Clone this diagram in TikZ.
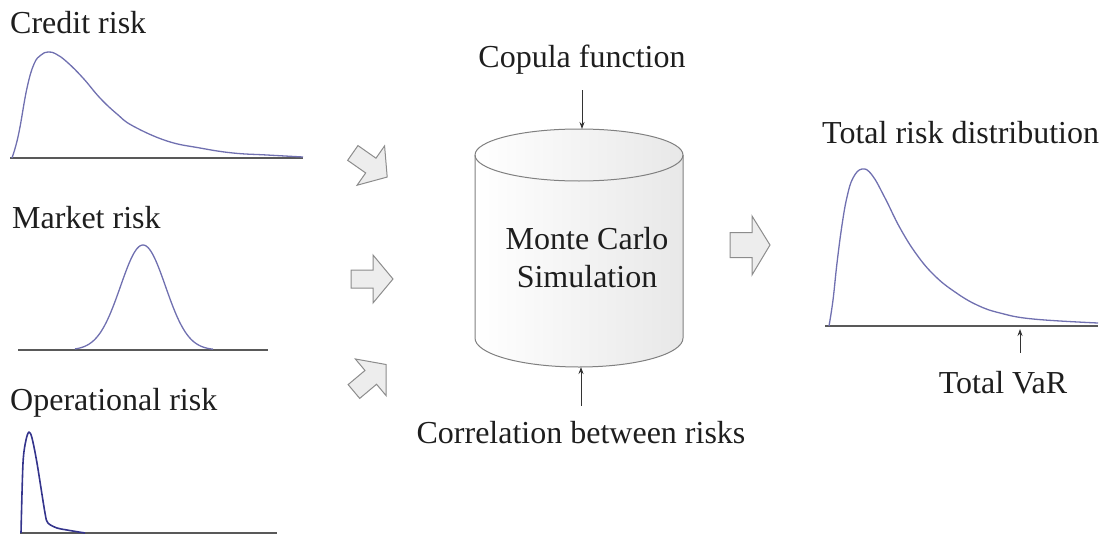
\documentclass[tikz,border=0pt]{standalone}
\usepackage{fontspec}
\setmainfont{Liberation Serif}
\usetikzlibrary{arrows.meta}
\definecolor{curvecol}{RGB}{112,112,176}
\definecolor{opcol}{RGB}{52,52,140}
\definecolor{txtcol}{RGB}{30,30,30}
\begin{document}
\begin{tikzpicture}[x=1pt,y=-1pt,
  lbl/.style={inner sep=0pt, font=\rmfamily\fontsize{32}{38}\selectfont, text=txtcol},
  axis/.style={line width=1.4pt, draw=black!65},
  curve/.style={line width=1.3pt, draw=curvecol, line join=round},
  conn/.style={-{Stealth[length=7pt,width=5pt]}, line width=0.9pt, draw=black!80},
  barrow/.style={fill=black!7, draw=black!45, line width=1pt, line join=miter},
  cyl/.style={draw=black!50, line width=1pt},
  blockarrow/.pic={\path[barrow] (-21,-9)--(1,-9)--(1,-24)--(21,0)--(1,24)--(1,9)--(-21,9)--cycle;}]
\useasboundingbox (0,0) rectangle (1110,538);

% ---------- labels ----------
\node[lbl, anchor=base west] (credit) at (10,33) {Credit risk};
\node[lbl, anchor=base west] (market) at (12,228) {Market risk};
\node[lbl, anchor=base west] (oper) at (10,410) {Operational risk};
\node[lbl, anchor=base] (copula) at (582,67) {Copula function};
\node[lbl, anchor=base] (corr) at (581,443) {Correlation between risks};
\node[lbl, anchor=base west] (total) at (822,143) {Total risk distribution};
\node[lbl, anchor=base] (var) at (1003,393) {Total VaR};

% ---------- credit risk ----------
\draw[axis] (10,158) -- (303,158);
\draw[curve] plot[smooth, tension=0.7] coordinates {(12,158) (16,145) (20,127) (27,88) (34,64) (41,55) (48,52) (56,54) (67,62) (83,78) (100,98) (117,114) (133,126) (167,141) (200,148) (233,153) (267,155) (303,157)};

% ---------- market risk ----------
\draw[axis] (18,350) -- (268,350);
\draw[curve] plot[domain=75:213, samples=90, smooth] (\x, {350-105*exp(-((\x-143)/22.5)^2/2)});

% ---------- operational risk ----------
\draw[axis] (20,533) -- (277,533);
\draw[curve, draw=opcol, line width=1.6pt] plot[smooth, tension=0.5] coordinates {(21,533) (23,463) (26,440) (29,432) (32,438) (37,463) (45,513) (48,523) (57,528) (67,530) (85,533)};

% ---------- block arrows ----------
\pic[rotate=-35] at (370,165) {blockarrow};
\pic at (372,279) {blockarrow};
\pic[rotate=40] at (370,378) {blockarrow};
\path[barrow] (730,232.5)--(752,232.5)--(752,216)--(770,245)--(752,275)--(752,257.5)--(730,257.5)--cycle;

% ---------- cylinder ----------
\shade[left color=white, right color=black!9] (475,155) -- (475,338)
  arc[start angle=180, end angle=360, x radius=104pt, y radius=29pt]
  -- (683,155)
  arc[start angle=0, end angle=180, x radius=104pt, y radius=26pt] -- cycle;
\draw[cyl] (475,155) -- (475,338)
  arc[start angle=180, end angle=360, x radius=104pt, y radius=29pt]
  -- (683,155)
  arc[start angle=0, end angle=180, x radius=104pt, y radius=26pt] -- cycle;
\draw[cyl] (475,155) arc[start angle=180, end angle=360, x radius=104pt, y radius=26pt];
\node[lbl, align=center, anchor=center] (mc) at (587,258) {Monte Carlo\\Simulation};
\coordinate (mctop) at (582,129);
\coordinate (mcbot) at (581,367);

\draw[conn, shorten <=16pt] (copula.south) -- (mctop);
\draw[conn, shorten <=15pt] (corr.north) -- (mcbot);

% ---------- total risk ----------
\draw[axis] (825,326) -- (1098,326);
\draw[curve] plot[smooth, tension=0.7] coordinates {(829,326) (833,300) (837,263) (842,225) (847,197) (853,178) (862,169) (872,175) (885,198) (900,228) (917,255) (935,276) (955,292) (977,305) (1000,313) (1033,319) (1098,323)};
\coordinate (varpt) at (1020,329);
\draw[conn] ([xshift=17pt, yshift=18pt]var.north) -- (varpt);
\end{tikzpicture}
\end{document}
